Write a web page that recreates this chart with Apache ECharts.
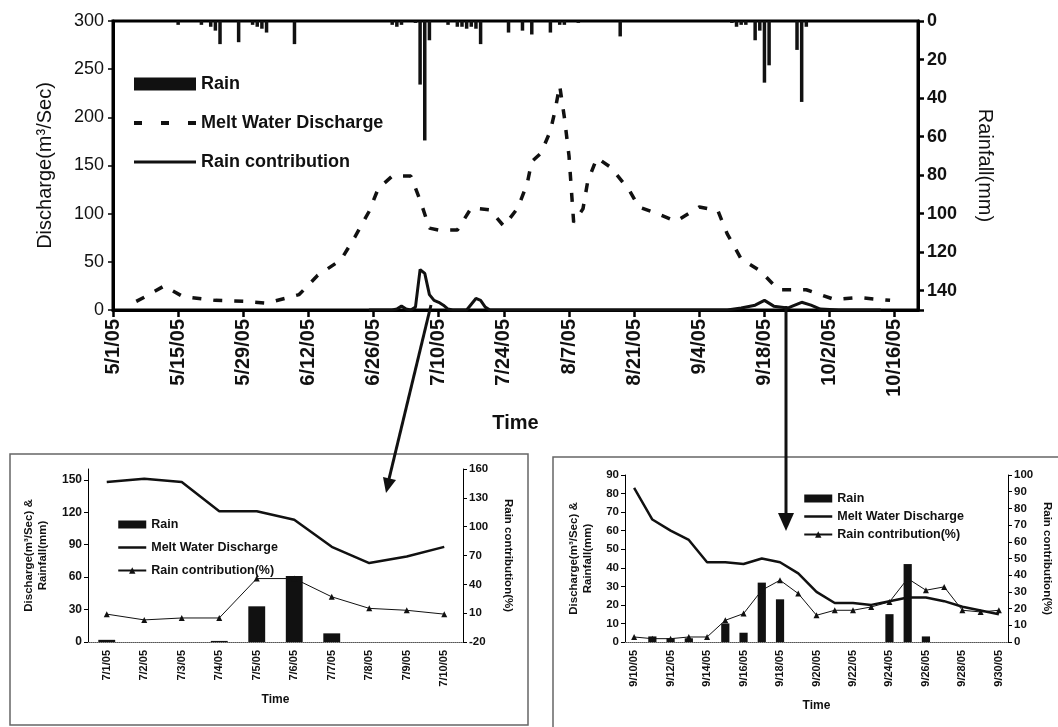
<!DOCTYPE html>
<html><head><meta charset="utf-8">
<script src="https://cdn.jsdelivr.net/npm/echarts@6/dist/echarts.min.js"></script>
<style>html,body{margin:0;padding:0;background:#fff}#c{width:1058px;height:727px}</style>
</head><body><div id="c"></div>
<script>
// ---- Main chart (day index 0 = 5/1/05) ----
const rainDays = [14, 19, 21, 22, 23, 27, 30, 31, 32, 33, 39, 60, 61, 62, 65, 66, 67, 68, 72, 74, 75, 76, 77, 78, 79, 85, 88, 90, 94, 96, 97, 100, 109, 133, 134, 135, 136, 138, 139, 140, 141, 147, 148, 149];
const rainMm   = [2, 2, 3, 5, 12, 11, 2, 3, 4, 6, 12, 2, 3, 2, 1, 33, 62, 10, 2, 3, 3, 4, 3, 4, 12, 6, 5, 7, 6, 2, 2, 1, 8, 1, 3, 2, 2, 10, 5, 32, 23, 15, 42, 3];
const dischargeDays = [5, 7, 11, 15, 22, 28, 33, 40, 44, 49, 52, 55, 57, 60, 64, 66, 68, 70, 74, 77, 81, 84, 87, 89, 90, 92, 94, 95, 96, 97, 98, 99, 101, 102, 104, 107, 111, 113, 117, 121, 126, 130, 132, 135, 139, 143, 149, 155, 160, 167];
const dischargeVals = [9, 14, 25, 14, 10, 9, 7, 16, 36, 52, 76, 102, 126, 139, 139, 114, 85, 83, 83, 106, 104, 87, 106, 131, 154, 163, 186, 207, 233, 200, 160, 91, 105, 133, 158, 148, 124, 107, 100, 92, 107, 103, 79, 53, 41, 21, 21, 11, 13, 10];
const contribDays = [55, 60, 61, 62, 63, 64, 65, 66, 67, 68, 69, 70, 71, 72, 73, 76, 77, 78, 79, 80, 81, 132, 135, 138, 140, 142, 145, 146, 148, 150, 152, 156, 165];
const contribVals = [0, 0, 1, 4, 1, 0, 3, 42, 38, 16, 10, 8, 5, 1, 0, 0, 6, 12, 10, 3, 0, 0, 2, 5, 10, 4, 2, 4, 8, 5, 1, 0, 0];
const mainTickDays = 14;

// ---- Inset: July ----
const julyDates = ['7/1/05','7/2/05','7/3/05','7/4/05','7/5/05','7/6/05','7/7/05','7/8/05','7/9/05','7/10/05'];
const julyRain = [2, 0, 0, 1, 33, 61, 8, 0, 0, 0];
const julyDischarge = [148, 151, 148, 121, 121, 113, 88, 73, 79, 88];
const julyContrib = [9, 3, 5, 5, 46, 46, 27, 15, 13, 9];

// ---- Inset: September ----
const septDates = ['9/10/05','9/11/05','9/12/05','9/13/05','9/14/05','9/15/05','9/16/05','9/17/05','9/18/05','9/19/05','9/20/05','9/21/05','9/22/05','9/23/05','9/24/05','9/25/05','9/26/05','9/27/05','9/28/05','9/29/05','9/30/05'];
const septRain = [0, 3, 2, 2, 0, 10, 5, 32, 23, 0, 0, 0, 0, 0, 15, 42, 3, 0, 0, 0, 0];
const septDischarge = [83, 66, 60, 55, 43, 43, 42, 45, 43, 37, 27, 21, 21, 20, 22, 24, 24, 22, 19, 17, 15];
const septContrib = [3, 2, 2, 3, 3, 13, 17, 31, 37, 29, 16, 19, 19, 21, 24, 38, 31, 33, 19, 18, 19];

const FF = "'Liberation Sans', Arial, sans-serif";
const K = '#111';
const NOSYM = { color: 'rgba(0,0,0,0)', borderColor: 'rgba(0,0,0,0)', borderWidth: 0 };
function dayLabel(v) {
  const d = new Date(2005, 4, 1 + v);
  return (d.getMonth() + 1) + '/' + d.getDate() + '/05';
}
const pair = (xs, ys) => xs.map((x, i) => [x, ys[i]]);

const insetX = (gi, data, labelInterval, nameGap) => ({
  type: 'category', gridIndex: gi, data: data, boundaryGap: true,
  axisLine: { onZero: false, lineStyle: { color: '#000', width: 1 } },
  axisTick: { interval: 0, length: 4, lineStyle: { color: '#000' } },
  axisLabel: { interval: labelInterval, rotate: 90, fontSize: 11, fontWeight: 'bold', color: '#111', fontFamily: FF, margin: 8 },
  name: 'Time', nameLocation: 'middle', nameGap: nameGap,
  nameTextStyle: { fontSize: 12, fontWeight: 'bold', color: '#111', fontFamily: FF }
});
const insetTop = (gi, data) => ({
  type: 'category', gridIndex: gi, data: data, position: 'top',
  axisLine: { lineStyle: { color: '#888', width: 1, type: 'dotted' } },
  axisTick: { show: false }, axisLabel: { show: false }
});
const insetY = (gi, pos, min, max, step, name, gap, extra) => Object.assign({
  type: 'value', gridIndex: gi, position: pos, min: min, max: max, interval: step,
  splitLine: { show: false },
  axisLine: { show: true, lineStyle: { color: '#000', width: 1 } },
  axisTick: { show: true, length: 4, lineStyle: { color: '#000' } },
  axisLabel: { fontSize: 11.5, fontWeight: 'bold', color: '#111', fontFamily: FF, margin: 6 },
  name: name, nameLocation: 'middle', nameGap: gap,
  nameTextStyle: { fontSize: 11.5, fontWeight: 'bold', color: '#111', fontFamily: FF, lineHeight: 14 }
}, extra || {});

const option = {
  animation: false,
  backgroundColor: '#fff',
  grid: [
    { left: 113, top: 21, width: 805, height: 289, show: true, borderColor: '#000', borderWidth: 3 },
    { left: 88, top: 469, width: 375, height: 173 },
    { left: 625, top: 475, width: 383, height: 167 }
  ],
  legend: [
    { left: 127, top: 70, orient: 'vertical', itemWidth: 62, itemHeight: 13, itemGap: 21, selectedMode: false,
      textStyle: { fontSize: 18, fontWeight: 'bold', color: '#111', fontFamily: FF },
      data: [{ name: 'Rain', icon: 'rect' },
             { name: 'Melt Water Discharge', itemStyle: NOSYM, lineStyle: { type: [8, 19], width: 4 } },
             { name: 'Rain contribution', itemStyle: NOSYM, lineStyle: { width: 3 } }] },
    { left: 112, top: 513, orient: 'vertical', itemWidth: 28, itemHeight: 8, itemGap: 10, selectedMode: false,
      textStyle: { fontSize: 12.5, fontWeight: 'bold', color: '#111', fontFamily: FF },
      data: [{ name: 'Rain', icon: 'rect' },
             { name: 'Melt Water Discharge', itemStyle: NOSYM, lineStyle: { type: 'solid', width: 2.5 } },
             { name: 'Rain contribution(%)' }] },
    { left: 798, top: 487, orient: 'vertical', itemWidth: 28, itemHeight: 8, itemGap: 5, selectedMode: false,
      textStyle: { fontSize: 12.5, fontWeight: 'bold', color: '#111', fontFamily: FF },
      data: [{ name: 'Rain', icon: 'rect' },
             { name: 'Melt Water Discharge', itemStyle: NOSYM, lineStyle: { type: 'solid', width: 2.5 } },
             { name: 'Rain contribution(%)' }] }
  ],
  xAxis: [
    { type: 'value', gridIndex: 0, min: 0, max: 173, interval: mainTickDays,
      splitLine: { show: false },
      axisLine: { onZero: false, lineStyle: { color: '#000', width: 3 } },
      axisTick: { length: 7, lineStyle: { color: '#000', width: 2.5 } },
      axisLabel: { rotate: 90, fontSize: 20, fontWeight: 'bold', color: '#111', fontFamily: FF, margin: 9, showMaxLabel: false,
        formatter: v => (v % mainTickDays === 0 ? dayLabel(v) : '') },
      name: 'Time', nameLocation: 'middle', nameGap: 103,
      nameTextStyle: { fontSize: 20, fontWeight: 'bold', color: '#111', fontFamily: FF } },
    insetX(1, julyDates, 0, 52),
    insetTop(1, julyDates),
    insetX(2, septDates, 1, 58),
    insetTop(2, septDates)
  ],
  yAxis: [
    { type: 'value', gridIndex: 0, position: 'left', min: 0, max: 300, interval: 50,
      splitLine: { show: false },
      axisLine: { show: true, lineStyle: { color: '#000', width: 3 } },
      axisTick: { show: true, length: 5, lineStyle: { color: '#000', width: 1.5 } },
      axisLabel: { fontSize: 18, color: '#111', fontFamily: FF, margin: 9 },
      name: 'Discharge(m³/Sec)', nameLocation: 'middle', nameGap: 58,
      nameTextStyle: { fontSize: 20, color: '#111', fontFamily: FF } },
    { type: 'value', gridIndex: 0, position: 'right', inverse: true, min: 0, max: 150, interval: 20,
      splitLine: { show: false },
      axisLine: { show: true, lineStyle: { color: '#000', width: 3 } },
      axisTick: { show: true, length: 6, lineStyle: { color: '#000', width: 2.5 } },
      axisLabel: { fontSize: 18, fontWeight: 'bold', color: '#111', fontFamily: FF, margin: 9,
        formatter: v => (v % 20 === 0 ? String(v) : '') },
      name: 'Rainfall(mm)', nameLocation: 'middle', nameGap: 57, nameRotate: -90,
      nameTextStyle: { fontSize: 20, color: '#111', fontFamily: FF } },
    insetY(1, 'left', 0, 160, 30, 'Discharge(m³/Sec) &\nRainfall(mm)', 38,
      { axisLabel: { fontSize: 12, fontWeight: 'bold', color: '#111', fontFamily: FF, margin: 6, showMaxLabel: false } }),
    insetY(1, 'right', -20, 160, 30, 'Rain contribution(%)', 38, { nameRotate: -90 }),
    insetY(2, 'left', 0, 90, 10, 'Discharge(m³/Sec) &\nRainfall(mm)', 30),
    insetY(2, 'right', 0, 100, 10, 'Rain contribution(%)', 32, { nameRotate: -90 })
  ],
  series: [
    { name: 'Rain', type: 'bar', xAxisIndex: 0, yAxisIndex: 1, barWidth: 3.5,
      itemStyle: { color: K }, data: pair(rainDays, rainMm) },
    { name: 'Melt Water Discharge', type: 'line', xAxisIndex: 0, yAxisIndex: 0, symbol: 'none',
      lineStyle: { color: K, width: 3.5, type: [9, 12] }, itemStyle: { color: K },
      data: pair(dischargeDays, dischargeVals) },
    { name: 'Rain contribution', type: 'line', xAxisIndex: 0, yAxisIndex: 0, symbol: 'none',
      lineStyle: { color: K, width: 3 }, itemStyle: { color: K },
      data: pair(contribDays, contribVals) },

    { name: 'Melt Water Discharge', type: 'line', xAxisIndex: 1, yAxisIndex: 2, symbol: 'none',
      lineStyle: { color: K, width: 2.5 }, itemStyle: { color: K }, data: julyDischarge },
    { name: 'Rain contribution(%)', type: 'line', xAxisIndex: 1, yAxisIndex: 3, symbol: 'triangle', symbolSize: 6,
      lineStyle: { color: K, width: 1 }, itemStyle: { color: K }, data: julyContrib },
    { name: 'Rain', type: 'bar', xAxisIndex: 1, yAxisIndex: 2, barWidth: '45%',
      itemStyle: { color: K }, data: julyRain },

    { name: 'Melt Water Discharge', type: 'line', xAxisIndex: 3, yAxisIndex: 4, symbol: 'none',
      lineStyle: { color: K, width: 2.5 }, itemStyle: { color: K }, data: septDischarge },
    { name: 'Rain contribution(%)', type: 'line', xAxisIndex: 3, yAxisIndex: 5, symbol: 'triangle', symbolSize: 6,
      lineStyle: { color: K, width: 1 }, itemStyle: { color: K }, data: septContrib },
    { name: 'Rain', type: 'bar', xAxisIndex: 3, yAxisIndex: 4, barWidth: '45%',
      itemStyle: { color: K }, data: septRain }
  ],
  graphic: [
    { type: 'rect', z: 1, shape: { x: 10, y: 454, width: 518, height: 271 },
      style: { fill: 'none', stroke: '#666', lineWidth: 1.5 } },
    { type: 'rect', z: 1, shape: { x: 553, y: 457, width: 520, height: 290 },
      style: { fill: 'none', stroke: '#666', lineWidth: 1.5 } },
    { type: 'line', z: 100, shape: { x1: 431, y1: 305, x2: 389, y2: 479 },
      style: { stroke: '#111', lineWidth: 3 } },
    { type: 'polygon', z: 100, shape: { points: [[396, 480], [383, 477], [386, 493]] },
      style: { fill: '#111' } },
    { type: 'line', z: 100, shape: { x1: 786, y1: 306, x2: 786, y2: 516 },
      style: { stroke: '#111', lineWidth: 3 } },
    { type: 'polygon', z: 100, shape: { points: [[778, 513], [794, 513], [786, 531]] },
      style: { fill: '#111' } }
  ]
};
echarts.init(document.getElementById('c'), null, { renderer: 'canvas' }).setOption(option);
</script>
</body></html>
